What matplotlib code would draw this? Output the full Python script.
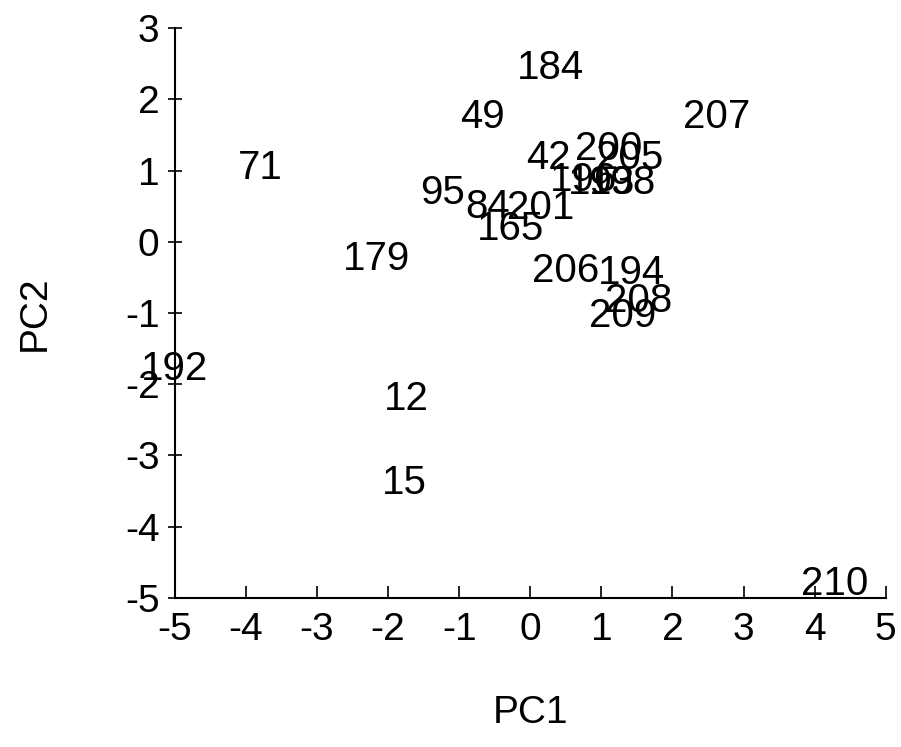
import matplotlib
matplotlib.use("Agg")
import matplotlib.pyplot as plt

plt.rcParams['font.family'] = ['Liberation Sans', 'DejaVu Sans']
plt.rcParams['axes.unicode_minus'] = False

# case labels and their PC scores
labels = ['184', '49', '207', '71', '95', '84', '201', '165', '179',
          '42', '200', '205', '196', '193', '198',
          '206', '194', '208', '209', '192', '12', '15', '210']
pc1 = [0.28, -0.67, 2.62, -3.8, -1.23, -0.6, 0.14, -0.28, -2.16,
       0.25, 1.1, 1.4, 0.75, 1.0, 1.3,
       0.5, 1.42, 1.53, 1.3, -5.0, -1.74, -1.77, 4.28]
pc2 = [2.44, 1.75, 1.75, 1.04, 0.69, 0.49, 0.48, 0.18, -0.24,
       1.17, 1.3, 1.18, 0.86, 0.82, 0.82,
       -0.41, -0.44, -0.83, -1.04, -1.79, -2.21, -3.39, -4.8]

fig = plt.figure(figsize=(9.01, 7.47), dpi=100)
ax = fig.add_axes([0.194, 0.1995, 0.789, 0.763])

for lab, x, y in zip(labels, pc1, pc2):
    ax.text(x, y, lab, ha='center', va='center', fontsize=29, color='black')

ax.set_xlim(-5, 5)
ax.set_ylim(-5, 3)
ax.set_xticks(range(-5, 6))
ax.set_yticks(range(-5, 4))
ax.spines['top'].set_visible(False)
ax.spines['right'].set_visible(False)
ax.spines['left'].set_linewidth(1.5)
ax.spines['bottom'].set_linewidth(1.5)
ax.tick_params(axis='x', direction='in', length=9, width=1.2, labelsize=28, pad=10)
ax.tick_params(axis='y', direction='inout', length=10, width=1.2, labelsize=28, pad=6)
ax.set_xlabel('PC1', fontsize=28, labelpad=34)
ax.set_ylabel('PC2', fontsize=28, labelpad=52)

fig.savefig('out.png', dpi=100)
